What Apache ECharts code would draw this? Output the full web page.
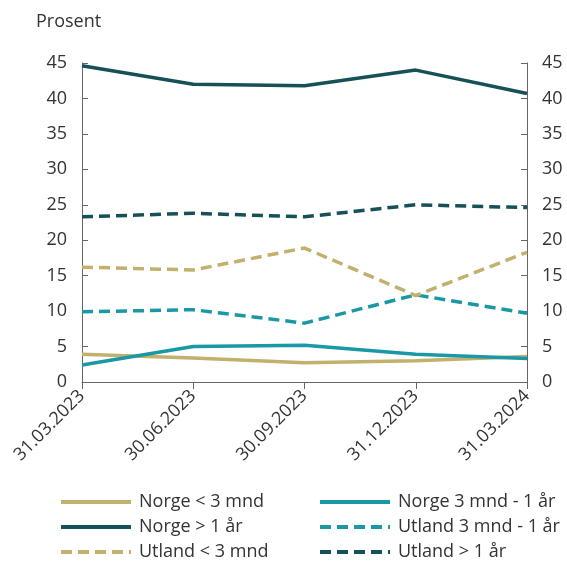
<!DOCTYPE html>
<html>
<head>
<meta charset="utf-8">
<script src="https://cdn.jsdelivr.net/npm/echarts@6/dist/echarts.min.js"></script>
<style>
  html, body { margin: 0; padding: 0; background: #fff; }
  #chart { width: 567px; height: 563px; }
</style>
</head>
<body>
<div id="chart"></div>
<script>
const categories = ["31.03.2023", "30.06.2023", "30.09.2023", "31.12.2023", "31.03.2024"]
const yTicks = [0, 5, 10, 15, 20, 25, 30, 35, 40, 45]

const norgeUnder3 = [3.9, 3.4, 2.7, 3.0, 3.6]
const norge3til12 = [2.4, 5.0, 5.2, 3.9, 3.3]
const norgeOver1 = [44.6, 42.0, 41.8, 44.0, 40.7]
const utland3til12 = [9.9, 10.2, 8.3, 12.3, 9.7]
const utlandUnder3 = [16.2, 15.8, 18.9, 12.2, 18.3]
const utlandOver1 = [23.3, 23.8, 23.3, 25.0, 24.6]

const gold = "#c2b06d"
const teal = "#1b98a6"
const dark = "#155157"

const chart = echarts.init(document.getElementById("chart"))

function line(name, data, color, dashed) {
	return {
		name: name,
		type: "line",
		data: data,
		symbol: "none",
		lineStyle: { color: color, width: 3.5, type: dashed ? [11, 6] : "solid" },
		itemStyle: { color: color },
	}
}

const yAxisBase = {
	type: "value",
	min: 0,
	max: yTicks[yTicks.length - 1],
	interval: 5,
	splitLine: { show: false },
	axisLine: { show: true, lineStyle: { color: "#666", width: 1 } },
	axisTick: { show: true, inside: true, length: 6, lineStyle: { color: "#666" } },
	axisLabel: { color: "#333", fontSize: 18, fontFamily: "Open Sans", margin: 15 },
}

const legendBase = {
	orient: "vertical",
	top: 493,
	padding: 0,
	itemWidth: 70,
	itemHeight: 14,
	itemGap: 7,
	itemStyle: { opacity: 0 },
	lineStyle: { width: 4 },
	textStyle: { fontSize: 18, color: "#333", fontFamily: "Open Sans", padding: [0, 0, 0, 3] },
}

const option = {
	animation: false,
	textStyle: { fontFamily: "Open Sans" },
	title: {
		text: "Prosent",
		left: 31,
		top: 8,
		textStyle: { fontSize: 18, fontWeight: "normal", color: "#333", fontFamily: "Open Sans" },
	},
	grid: { left: 82, right: 40, top: 63, bottom: 181, containLabel: false },
	xAxis: {
		type: "category",
		data: categories,
		boundaryGap: false,
		axisLine: { lineStyle: { color: "#666", width: 1 } },
		axisTick: { show: true, length: 7, lineStyle: { color: "#666" } },
		axisLabel: { rotate: 45, color: "#333", fontSize: 18, fontFamily: "Open Sans", margin: 11 },
	},
	yAxis: [
		Object.assign({}, yAxisBase, { position: "left" }),
		Object.assign({}, yAxisBase, { position: "right" }),
	],
	legend: [
		Object.assign({}, legendBase, {
			left: 59,
			data: ["Norge < 3 mnd", "Norge > 1 år", "Utland < 3 mnd"],
		}),
		Object.assign({}, legendBase, {
			left: 318,
			data: ["Norge 3 mnd - 1 år", "Utland 3 mnd - 1 år", "Utland > 1 år"],
		}),
	],
	series: [
		line("Norge < 3 mnd", norgeUnder3, gold, false),
		line("Norge 3 mnd - 1 år", norge3til12, teal, false),
		line("Norge > 1 år", norgeOver1, dark, false),
		line("Utland 3 mnd - 1 år", utland3til12, teal, true),
		line("Utland < 3 mnd", utlandUnder3, gold, true),
		line("Utland > 1 år", utlandOver1, dark, true),
	],
}

option && chart.setOption(option)
</script>
</body>
</html>
